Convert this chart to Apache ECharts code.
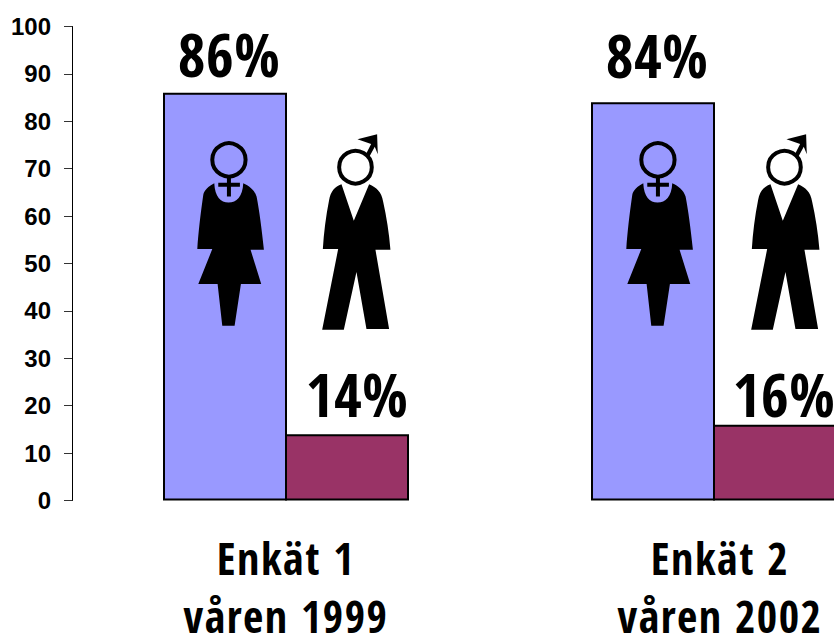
<!DOCTYPE html>
<html><head><meta charset="utf-8">
<style>html,body{margin:0;padding:0;background:#fff}#c{width:834px;height:634px;overflow:hidden}
text[style*="Condensed"]{letter-spacing:1.5px}
text[style*="60px"]{letter-spacing:.5px}</style>
<script src="https://cdn.jsdelivr.net/npm/echarts@6/dist/echarts.min.js"></script>
</head><body><div id="c"></div>
<script>
const categories = ['Enkät 1\nvåren 1999', 'Enkät 2\nvåren 2002'];
const women = [86, 84];
const men = [14, 16];
const yTicks = { min: 0, max: 100, interval: 10 };
const narrow = '"Open Sans Condensed"';

const femaleBody = 'M163 490C145 500 133 510 130 525C122 580 115 640 112 688L157 688L115 793L173 793L187 918L224 918L243 793L304 793L272 690L312 690C306 630 298 570 290 530C284 510 268 498 250 490C248 530 230 548 206 548C182 548 165 530 163 490Z';
const femaleCross = 'M201 470L213 470L213 489L240 489L240 501L213 501L213 530L201 530L201 501L175 501L175 489L201 489Z';
const maleBody = 'M545 493C525 500 512 515 508 540C498 590 492 640 489 688L535 688L487 930L552 930L590 757L620 928L688 928L647 690L692 690C688 640 680 590 670 545C665 515 650 503 628 493L582 603Z';
const maleArrow = 'M616 408L634 372L593 358L652 343L654 403L645 381L627 414Z';
const G = echarts.graphic;
G.registerShape('femaleBody', G.extendPath(femaleBody, {}));
G.registerShape('femaleCross', G.extendPath(femaleCross, {}));
G.registerShape('maleBody', G.extendPath(maleBody, {}));
G.registerShape('maleArrow', G.extendPath(maleArrow, {}));

function figure(dx) {
  const blk = { fill: '#000' };
  return {
    type: 'group', x: 160 + dx, y: 20, scaleX: 1 / 3, scaleY: 1 / 3, silent: true,
    children: [
      { type: 'femaleBody', z: 20, style: blk },
      { type: 'femaleCross', z: 20, style: blk },
      { type: 'circle', z: 20, shape: { cx: 207, cy: 420, r: 50 }, style: { fill: 'none', stroke: '#000', lineWidth: 12 } },
      { type: 'maleBody', z: 20, style: blk },
      { type: 'maleArrow', z: 20, style: blk },
      { type: 'circle', z: 20, shape: { cx: 587, cy: 442, r: 49 }, style: { fill: '#fff', stroke: '#000', lineWidth: 12 } }
    ]
  };
}

const pctLabel = {
  show: true, position: 'top', distance: 6, formatter: '{c}%',
  color: '#000', fontFamily: narrow, fontWeight: 'bold', fontSize: 60
};
const withOffset = (values, offsets) => values.map((value, i) => ({ value, label: { offset: offsets[i] } }));
const chart = echarts.init(document.getElementById('c'), null, { renderer: 'svg' });
chart.setOption({
  animation: false,
  backgroundColor: '#fff',
  grid: { left: 72, top: 26.5, width: 856, height: 474, outerBoundsMode: 'none' },
  xAxis: {
    type: 'category',
    data: categories.map((value, i) => i === 1 ? { value, textStyle: { padding: [0, 0, 0, 12] } } : value),
    axisLine: { show: false }, axisTick: { show: false },
    axisLabel: { color: '#000', fontFamily: narrow, fontWeight: 'bold', fontSize: 44, lineHeight: 58, margin: 28, interval: 0, hideOverlap: false }
  },
  yAxis: {
    type: 'value', min: yTicks.min, max: yTicks.max, interval: yTicks.interval,
    splitLine: { show: false },
    axisLine: { show: true, lineStyle: { color: '#000', width: 1 } },
    axisTick: { show: true, length: 8, lineStyle: { color: '#333', width: 1 } },
    axisLabel: { color: '#000', fontFamily: '"Liberation Sans",Arial,sans-serif', fontWeight: 'bold', fontSize: 24, margin: 21 }
  },
  series: [
    { type: 'bar', data: withOffset(women, [[4, -3], [4, -11]]), barWidth: 124, barGap: '-1.6129%', itemStyle: { color: '#9999FF', borderColor: '#000', borderWidth: 2 }, label: pctLabel },
    { type: 'bar', data: withOffset(men, [[10, -4], [9, 5]]), barWidth: 124, itemStyle: { color: '#993366', borderColor: '#000', borderWidth: 2 }, label: pctLabel }
  ],
  graphic: [figure(0), figure(429)]
});
</script></body></html>
